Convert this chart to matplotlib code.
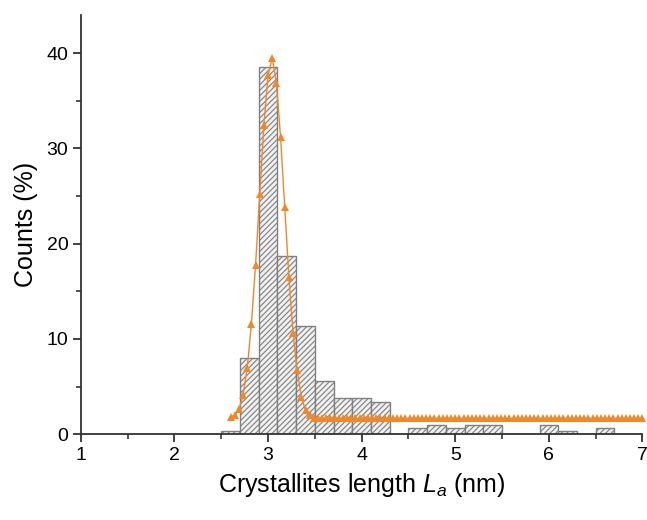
import numpy as np
import matplotlib
matplotlib.use("Agg")
import matplotlib.pyplot as plt

plt.rcParams['font.family'] = ['Liberation Sans', 'DejaVu Sans']
plt.rcParams['mathtext.fontset'] = 'custom'
plt.rcParams['mathtext.it'] = 'Liberation Sans:italic'
plt.rcParams['mathtext.rm'] = 'Liberation Sans'

# histogram bins (left edges, nm) and counts (%)
bin_left = [2.5, 2.7, 2.9, 3.1, 3.3, 3.5, 3.7, 3.9, 4.1, 4.3,
            4.5, 4.7, 4.9, 5.1, 5.3, 5.5, 5.7, 5.9, 6.1, 6.3, 6.5]
counts = [0.33, 8.0, 38.5, 18.7, 11.4, 5.6, 3.75, 3.75, 3.4, 0.0,
          0.67, 1.0, 0.67, 1.0, 1.0, 0.0, 0.0, 1.0, 0.33, 0.0, 0.67]
bin_width = 0.2

# Gaussian fit curve
fit_x = np.linspace(2.6, 7.0, 100)
fit_y = [1.8, 2.0, 2.6, 4.1, 7.0, 11.6, 17.8, 25.2, 32.5, 37.7,
         39.5, 36.9, 31.2, 23.9, 16.5, 10.6, 6.7, 3.9, 2.5, 2.0,
         1.7, 1.65, 1.65, 1.65, 1.65, 1.65, 1.65, 1.65, 1.65, 1.65,
         1.65, 1.65, 1.65, 1.65, 1.65, 1.65, 1.65, 1.65, 1.65, 1.65,
         1.65, 1.65, 1.65, 1.65, 1.65, 1.65, 1.65, 1.65, 1.65, 1.65,
         1.65, 1.65, 1.65, 1.65, 1.65, 1.65, 1.65, 1.65, 1.65, 1.65,
         1.65, 1.65, 1.65, 1.65, 1.65, 1.65, 1.65, 1.65, 1.65, 1.65,
         1.65, 1.65, 1.65, 1.65, 1.65, 1.65, 1.65, 1.65, 1.65, 1.65,
         1.65, 1.65, 1.65, 1.65, 1.65, 1.65, 1.65, 1.65, 1.65, 1.65,
         1.65, 1.65, 1.65, 1.65, 1.65, 1.65, 1.65, 1.65, 1.65, 1.65]

plt.rcParams['hatch.linewidth'] = 0.8

fig = plt.figure(figsize=(6.47, 5.2), dpi=100)
ax = fig.add_axes([0.125, 0.165, 0.868, 0.806])

ax.bar(bin_left, counts, width=bin_width, align='edge', facecolor='#f0f0f0',
       edgecolor='#808080', hatch='//////', linewidth=1.0, zorder=1)
ax.plot(fit_x, fit_y, color='#f0882a', linewidth=1.0, marker='^',
        markersize=5.5, markeredgewidth=0, zorder=3, clip_on=False)

ax.set_xlim(1, 7)
ax.set_ylim(0, 44)
ax.set_xticks([1, 2, 3, 4, 5, 6, 7])
ax.set_xticks(np.arange(1.5, 7, 1.0), minor=True)
ax.set_yticks([0, 10, 20, 30, 40])
ax.set_yticks([5, 15, 25, 35], minor=True)

for s in ['top', 'right']:
    ax.spines[s].set_visible(False)
for s in ['left', 'bottom']:
    ax.spines[s].set_linewidth(1.3)
    ax.spines[s].set_color('#333333')

ax.tick_params(which='major', direction='out', length=6, width=1.3,
               labelsize=14, color='#333333', pad=3)
ax.tick_params(which='minor', direction='out', length=3.5, width=1.2,
               color='#333333')

ax.set_xlabel('Crystallites length $\\mathit{L}_{\\mathit{a}}$ (nm)', fontsize=18, labelpad=5)
ax.set_ylabel('Counts (%)', fontsize=18, labelpad=6)

fig.savefig('out.png', dpi=100)
